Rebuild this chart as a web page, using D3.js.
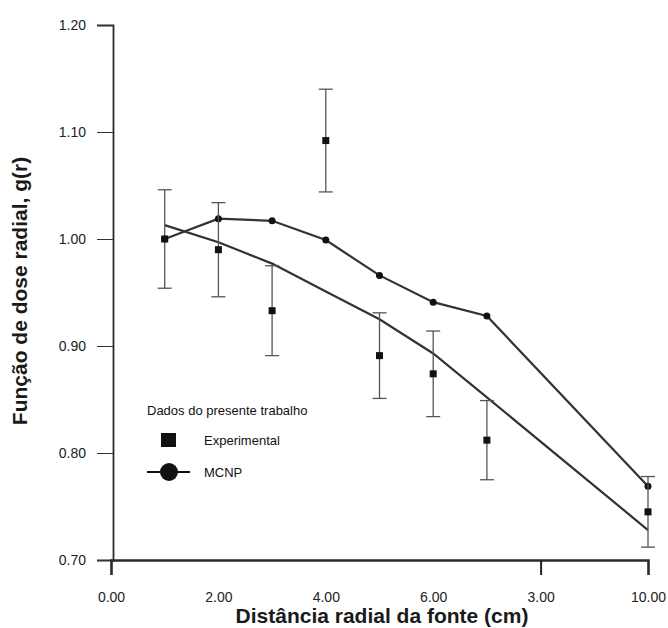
<!DOCTYPE html>
<html>
<head>
<meta charset="utf-8">
<script src="https://cdn.jsdelivr.net/npm/d3@7"></script>
<style>
  body { margin: 0; background: #fff; }
  svg { font-family: "Liberation Sans", Arial, sans-serif; }
</style>
</head>
<body>
<div id="chart"></div>
<script>
// radial distance (cm)
var distances = [1, 2, 3, 4, 5, 6, 7, 10];
// experimental g(r) and its uncertainty
var expValues = [1.000, 0.990, 0.933, 1.092, 0.891, 0.874, 0.812, 0.745];
var expErrors = [0.046, 0.044, 0.042, 0.048, 0.040, 0.040, 0.037, 0.033];
// MCNP simulation
var mcnpValues = [1.000, 1.019, 1.017, 0.999, 0.966, 0.941, 0.928, 0.769];
// second (unmarked) curve
var curveValues = [1.013, 0.997, 0.977, 0.951, 0.925, 0.893, 0.852, 0.728];

var xTicks = [0, 2, 4, 6, 8, 10];
var xTickLabels = ["0.00", "2.00", "4.00", "6.00", "3.00", "10.00"];
var yTicks = [0.70, 0.80, 0.90, 1.00, 1.10, 1.20];

var legendTitle = "Dados do presente trabalho";
var legendNames = ["Experimental", "MCNP"];

var width = 668, height = 628;
var margin = {left: 111, right: 20, top: 25, bottom: 68};

var svg = d3.select("#chart")
    .append("svg")
    .attr("width", width)
    .attr("height", height);

//scales
var xScale = d3.scaleLinear()
    .domain([0, 10])
    .range([margin.left, width - margin.right]);

var yScale = d3.scaleLinear()
    .domain([0.70, 1.20])
    .range([height - margin.bottom, margin.top]);

//y axis
var yAxis = svg.append("g")
    .attr("class", "yAxis")
    .attr("transform", "translate(113,0)")
    .call(d3.axisLeft(yScale).tickValues(yTicks).tickFormat(d3.format(".2f")).tickSize(16).tickPadding(11));

yAxis.select(".domain").attr("stroke", "#2b2b2b").attr("stroke-width", 1.8);
yAxis.selectAll(".tick line").attr("stroke", "#333").attr("stroke-width", 1);
yAxis.selectAll("text")
    .style("font-size", "14px")
    .style("fill", "#222");

//x axis
var xAxis = svg.append("g")
    .attr("class", "xAxis")
    .attr("transform", "translate(0," + yScale(0.70) + ")")
    .call(d3.axisBottom(xScale).tickValues(xTicks).tickFormat((d, i) => xTickLabels[i]).tickSize(15).tickPadding(17));

xAxis.select(".domain").attr("stroke", "#2b2b2b").attr("stroke-width", 2.6);
xAxis.selectAll(".tick line")
    .attr("stroke", "#222")
    .attr("stroke-width", 2)
    .attr("opacity", d => d === 8 ? 1 : 0);
xAxis.selectAll("text")
    .style("font-size", "14px")
    .style("fill", "#222");

//axis titles
svg.append("text")
    .attr("x", 382)
    .attr("y", 623)
    .attr("text-anchor", "middle")
    .style("font-size", "21px")
    .style("font-weight", "bold")
    .style("fill", "#1a1a1a")
    .text("Distância radial da fonte (cm)");

svg.append("text")
    .attr("transform", "translate(27,291) rotate(-90)")
    .attr("text-anchor", "middle")
    .style("font-size", "21px")
    .style("font-weight", "bold")
    .style("fill", "#1a1a1a")
    .text("Função de dose radial, g(r)");

var line = d3.line()
    .x((d, i) => xScale(distances[i]))
    .y(d => yScale(d));

//unmarked curve
svg.append("path")
    .datum(curveValues)
    .attr("d", line)
    .attr("fill", "none")
    .attr("stroke", "#333")
    .attr("stroke-width", 2.2);

//MCNP line
svg.append("path")
    .datum(mcnpValues)
    .attr("d", line)
    .attr("fill", "none")
    .attr("stroke", "#333")
    .attr("stroke-width", 2.2);

svg.append("g")
    .attr("class", "mcnpDots")
    .selectAll("circle")
    .data(mcnpValues)
    .enter()
    .append("circle")
        .attr("cx", (d, i) => xScale(distances[i]))
        .attr("cy", d => yScale(d))
        .attr("r", 3.5)
        .attr("fill", "#111");

//error bars
var capW = 7;
var errors = svg.append("g").attr("class", "errorBars");

errors.selectAll("line.v")
    .data(expValues)
    .enter()
    .append("line")
        .attr("class", "v")
        .attr("x1", (d, i) => xScale(distances[i]))
        .attr("x2", (d, i) => xScale(distances[i]))
        .attr("y1", (d, i) => yScale(d + expErrors[i]))
        .attr("y2", (d, i) => yScale(d - expErrors[i]))
        .attr("stroke", "#555")
        .attr("stroke-width", 1.3);

errors.selectAll("line.top")
    .data(expValues)
    .enter()
    .append("line")
        .attr("class", "top")
        .attr("x1", (d, i) => xScale(distances[i]) - capW)
        .attr("x2", (d, i) => xScale(distances[i]) + capW)
        .attr("y1", (d, i) => yScale(d + expErrors[i]))
        .attr("y2", (d, i) => yScale(d + expErrors[i]))
        .attr("stroke", "#555")
        .attr("stroke-width", 1.3);

errors.selectAll("line.bottom")
    .data(expValues)
    .enter()
    .append("line")
        .attr("class", "bottom")
        .attr("x1", (d, i) => xScale(distances[i]) - capW)
        .attr("x2", (d, i) => xScale(distances[i]) + capW)
        .attr("y1", (d, i) => yScale(d - expErrors[i]))
        .attr("y2", (d, i) => yScale(d - expErrors[i]))
        .attr("stroke", "#555")
        .attr("stroke-width", 1.3);

//experimental squares
var sq = 7;
svg.append("g")
    .attr("class", "expSquares")
    .selectAll("rect")
    .data(expValues)
    .enter()
    .append("rect")
        .attr("x", (d, i) => xScale(distances[i]) - sq / 2)
        .attr("y", d => yScale(d) - sq / 2)
        .attr("width", sq)
        .attr("height", sq)
        .attr("fill", "#111");

//legend
var legend = svg.append("g")
    .attr("class", "legend")
    .attr("transform", "translate(147,410)");

legend.append("text")
    .attr("x", 0)
    .attr("y", 5)
    .text(legendTitle)
    .style("font-size", "13px")
    .style("fill", "#111");

legend.append("rect")
    .attr("x", 14)
    .attr("y", 23)
    .attr("width", 15)
    .attr("height", 14)
    .attr("fill", "#111");

legend.append("text")
    .attr("x", 57)
    .attr("y", 35)
    .text(legendNames[0])
    .style("font-size", "13px")
    .style("fill", "#111");

legend.append("line")
    .attr("x1", 0)
    .attr("x2", 43)
    .attr("y1", 62)
    .attr("y2", 62)
    .attr("stroke", "#111")
    .attr("stroke-width", 2);

legend.append("circle")
    .attr("cx", 22)
    .attr("cy", 62)
    .attr("r", 9)
    .attr("fill", "#111");

legend.append("text")
    .attr("x", 57)
    .attr("y", 67)
    .text(legendNames[1])
    .style("font-size", "13px")
    .style("fill", "#111");
</script>
</body>
</html>
